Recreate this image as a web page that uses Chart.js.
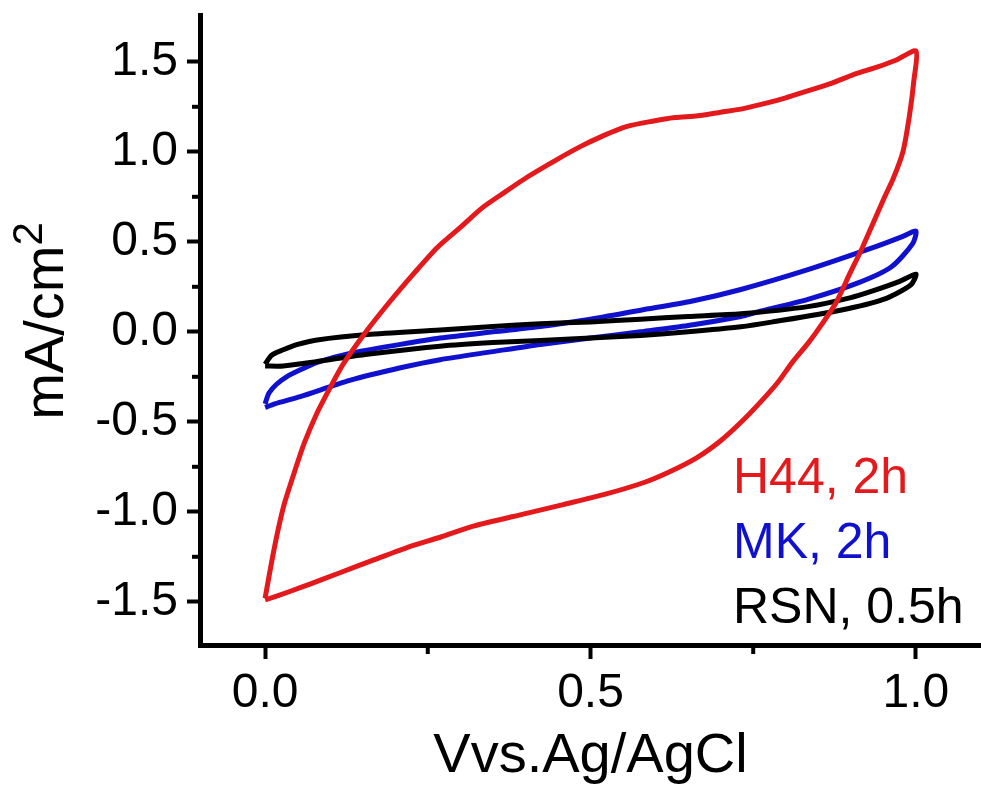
<!DOCTYPE html>
<html>
<head>
<meta charset="utf-8">
<script src="https://cdn.jsdelivr.net/npm/chart.js@4"></script>
<style>
  html, body { margin: 0; padding: 0; background: #fff; }
  #wrap { width: 981px; height: 790px; position: relative; }
</style>
</head>
<body>
<div id="wrap"><canvas id="cv"></canvas></div>
<script>
// H44, 2h : forward scan (upper branch) then reverse scan (lower branch)
const H44_V = [0.000, 0.010, 0.020, 0.030, 0.045, 0.060, 0.080, 0.100, 0.120, 0.155, 0.190, 0.230,
  0.265, 0.300, 0.334, 0.370, 0.403, 0.445, 0.485, 0.520, 0.555, 0.595, 0.630, 0.665, 0.700, 0.735,
  0.770, 0.800, 0.835, 0.870, 0.905, 0.940, 0.970, 1.000,
  0.997, 0.990, 0.980, 0.965, 0.952, 0.935, 0.918, 0.898, 0.877, 0.855, 0.835, 0.810, 0.788, 0.760,
  0.732, 0.700, 0.663, 0.620, 0.580, 0.520, 0.458, 0.400, 0.320, 0.270, 0.217, 0.165, 0.114, 0.070,
  0.040, 0.000];
const H44_I = [-1.48, -1.28, -1.10, -0.95, -0.78, -0.62, -0.45, -0.31, -0.18, 0.00, 0.16, 0.33,
  0.47, 0.58, 0.69, 0.78, 0.86, 0.95, 1.03, 1.09, 1.14, 1.17, 1.19, 1.20, 1.22, 1.24,
  1.27, 1.30, 1.34, 1.38, 1.43, 1.47, 1.51, 1.56,
  1.40, 1.20, 1.00, 0.85, 0.75, 0.61, 0.47, 0.32, 0.16, 0.04, -0.06, -0.17, -0.28, -0.395,
  -0.50, -0.605, -0.70, -0.78, -0.84, -0.905, -0.96, -1.01, -1.08, -1.14, -1.20, -1.27, -1.34, -1.40,
  -1.44, -1.49];

// MK, 2h
const MK_V = [0.000, 0.006, 0.018, 0.033, 0.055, 0.080, 0.130, 0.208, 0.269, 0.350, 0.423, 0.500,
  0.577, 0.655, 0.731, 0.834, 0.936, 0.980, 1.000,
  0.995, 0.962, 0.910, 0.834, 0.757, 0.731, 0.650, 0.577, 0.500, 0.423, 0.350, 0.269, 0.208, 0.130,
  0.054, 0.015, 0.000];
const MK_I = [-0.40, -0.34, -0.29, -0.25, -0.21, -0.17, -0.12, -0.07, -0.035, 0.00, 0.03, 0.07,
  0.12, 0.17, 0.235, 0.345, 0.47, 0.53, 0.56,
  0.49, 0.36, 0.27, 0.18, 0.11, 0.085, 0.035, 0.00, -0.035, -0.07, -0.11, -0.155, -0.20, -0.27,
  -0.36, -0.40, -0.42];

// RSN, 0.5h
const RSN_V = [0.000, 0.010, 0.028, 0.050, 0.080, 0.157, 0.269, 0.350, 0.423, 0.500, 0.577, 0.650,
  0.731, 0.834, 0.900, 0.936, 0.975, 1.000,
  0.992, 0.950, 0.884, 0.780, 0.731, 0.650, 0.577, 0.500, 0.423, 0.350, 0.269, 0.157, 0.080, 0.028,
  0.000];
const RSN_I = [-0.18, -0.13, -0.10, -0.07, -0.045, -0.015, 0.01, 0.03, 0.045, 0.055, 0.07, 0.085,
  0.10, 0.14, 0.19, 0.23, 0.28, 0.32,
  0.26, 0.18, 0.12, 0.055, 0.028, 0.00, -0.02, -0.035, -0.048, -0.06, -0.08, -0.125, -0.165, -0.19,
  -0.19];

const LABELS = ['H44, 2h', 'MK, 2h', 'RSN, 0.5h'];
const COLORS = ['#e3191c', '#1010cf', '#000000'];

const X_TICKS = [0, 0.5, 1.0];
const Y_TICKS = [-1.5, -1.0, -0.5, 0, 0.5, 1.0, 1.5];

const FONT = '"Liberation Sans", Arial, sans-serif';

const toPoints = (xs, ys) => xs.map((x, i) => ({ x, y: ys[i] }));

function loop(label, color, xs, ys, order) {
  return {
    label,
    data: toPoints(xs, ys),
    borderColor: color,
    backgroundColor: color,
    borderWidth: 5,
    pointRadius: 0,
    showLine: true,
    tension: 0.25,
    order,
  };
}

// pin the plot box: no automatic room for overhanging labels
function fixBox(size) {
  return s => {
    if (s.isHorizontal()) s.height = size; else s.width = size;
    s.paddingTop = s.paddingBottom = s.paddingLeft = s.paddingRight = 0;
  };
}

// short ticks halfway between the labelled ones
const minorTicks = {
  id: 'minorTicks',
  afterDraw(chart) {
    const { ctx, chartArea, scales } = chart;
    ctx.save();
    ctx.strokeStyle = '#000';
    ctx.lineWidth = 4;
    const x = scales.x, y = scales.y;
    for (let i = 0; i < y.ticks.length - 1; i++) {
      const p = y.getPixelForValue((y.ticks[i].value + y.ticks[i + 1].value) / 2);
      ctx.beginPath();
      ctx.moveTo(chartArea.left - 8, p);
      ctx.lineTo(chartArea.left, p);
      ctx.stroke();
    }
    for (let i = 0; i < x.ticks.length - 1; i++) {
      const p = x.getPixelForValue((x.ticks[i].value + x.ticks[i + 1].value) / 2);
      ctx.beginPath();
      ctx.moveTo(p, chartArea.bottom);
      ctx.lineTo(p, chartArea.bottom + 9);
      ctx.stroke();
    }
    ctx.restore();
  },
};

// y title with a real superscript
const yTitle = {
  id: 'yTitle',
  afterDraw(chart) {
    const { ctx, chartArea } = chart;
    const big = '56px ' + FONT, small = '42px ' + FONT;
    ctx.save();
    ctx.fillStyle = '#000';
    ctx.textBaseline = 'alphabetic';
    ctx.textAlign = 'left';
    ctx.font = big;
    const w1 = ctx.measureText('mA/cm').width;
    ctx.font = small;
    const w2 = ctx.measureText('2').width;
    ctx.translate(63, (chartArea.top + chartArea.bottom) / 2 - 9);
    ctx.rotate(-Math.PI / 2);
    const x0 = -(w1 + w2) / 2;
    ctx.font = big;
    ctx.fillText('mA/cm', x0, 0);
    ctx.font = small;
    ctx.fillText('2', x0 + w1, -21);
    ctx.restore();
  },
};

// coloured text legend at the lower right of the plot
const textLegend = {
  id: 'textLegend',
  afterDraw(chart) {
    const { ctx, chartArea } = chart;
    ctx.save();
    ctx.font = '50px ' + FONT;
    ctx.textAlign = 'left';
    ctx.textBaseline = 'alphabetic';
    chart.data.datasets.forEach((ds, i) => {
      ctx.fillStyle = ds.borderColor;
      ctx.fillText(ds.label, chartArea.right - 248, chartArea.bottom - 152 + i * 65);
    });
    ctx.restore();
  },
};

const axisCommon = {
  border: { display: true, color: '#000', width: 5 },
  grid: { drawOnChartArea: false, color: '#000', tickColor: '#000', tickWidth: 4 },
};

new Chart(document.getElementById('cv'), {
  type: 'scatter',
  data: {
    datasets: [
      loop(LABELS[0], COLORS[0], H44_V, H44_I, 0),
      loop(LABELS[1], COLORS[1], MK_V, MK_I, 2),
      loop(LABELS[2], COLORS[2], RSN_V, RSN_I, 1),
    ],
  },
  options: {
    responsive: true,
    maintainAspectRatio: false,
    animation: false,
    layout: { padding: { top: 15, right: 0, left: 0, bottom: 0 } },
    plugins: {
      legend: { display: false },
      tooltip: { enabled: false },
    },
    scales: {
      x: {
        type: 'linear',
        min: -0.1,
        max: 1.1,
        ...axisCommon,
        grid: { ...axisCommon.grid, tickLength: 14 },
        afterBuildTicks: s => { s.ticks = X_TICKS.map(value => ({ value })); },
        ticks: {
          color: '#000',
          padding: 6,
          font: { family: FONT, size: 48 },
          callback: v => v.toFixed(1),
          maxRotation: 0,
        },
        title: {
          display: true,
          text: 'Vvs.Ag/AgCl',
          color: '#000',
          font: { family: FONT, size: 56 },
          padding: { top: 0, bottom: 0 },
        },
        afterFit: fixBox(145),
      },
      y: {
        type: 'linear',
        min: -1.74,
        max: 1.76,
        ...axisCommon,
        grid: { ...axisCommon.grid, tickLength: 13 },
        afterBuildTicks: s => { s.ticks = Y_TICKS.map(value => ({ value })); },
        ticks: {
          color: '#000',
          padding: 9,
          font: { family: FONT, size: 48 },
          callback: v => v.toFixed(1),
        },
        afterFit: fixBox(200),
      },
    },
  },
  plugins: [minorTicks, yTitle, textLegend],
});
</script>
</body>
</html>
